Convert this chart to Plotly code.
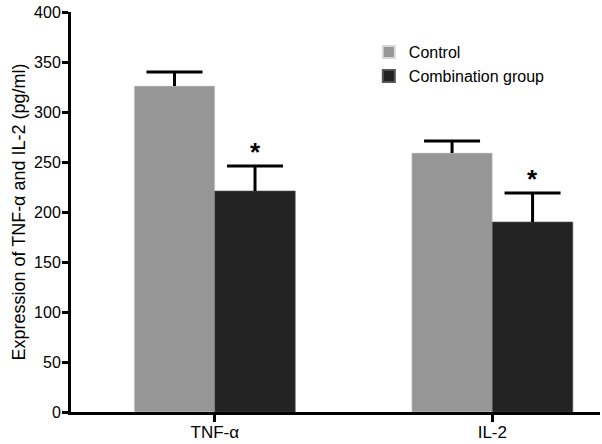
import plotly.graph_objects as go

categories = ["TNF-α", "IL-2"]
control = [326, 259]
control_err = [14, 12]
combination = [221, 190]
combination_err = [25, 29]
y_ticks = [0, 50, 100, 150, 200, 250, 300, 350, 400]

font = "Liberation Sans, Arial, sans-serif"
bar_w = 0.29
pos = list(range(len(categories)))
x_ctrl = [p - bar_w / 2 for p in pos]
x_comb = [p + bar_w / 2 for p in pos]

fig = go.Figure()
fig.add_trace(go.Bar(
    name="Control", x=x_ctrl, y=control, width=bar_w,
    marker=dict(color="#969696", line=dict(color="#d8d8d8", width=0.6)),
    error_y=dict(type="data", symmetric=False, array=control_err, arrayminus=[0, 0],
                 color="black", thickness=3, width=0),
))
fig.add_trace(go.Bar(
    name="Combination group", x=x_comb, y=combination, width=bar_w,
    marker=dict(color="#232323", line=dict(color="#555555", width=0.6)),
    error_y=dict(type="data", symmetric=False, array=combination_err, arrayminus=[0, 0],
                 color="black", thickness=3, width=0),
))
# error bar caps (top only)
fig.add_trace(go.Scatter(
    x=x_ctrl + x_comb,
    y=[v + e for v, e in zip(control, control_err)] + [v + e for v, e in zip(combination, combination_err)],
    mode="markers", showlegend=False, hoverinfo="skip",
    marker=dict(symbol="line-ew", size=40, line=dict(color="black", width=3)),
))

for xc, v, e in zip(x_comb, combination, combination_err):
    fig.add_annotation(x=xc, y=v + e, xref="x", yref="y", text="<b>*</b>", showarrow=False,
                       yshift=-3, yanchor="bottom",
                       font=dict(family=font, size=26, color="black"))

fig.update_layout(
    template="none",
    width=602, height=444,
    margin=dict(l=71, r=2, t=12, b=32),
    plot_bgcolor="white", paper_bgcolor="white",
    barmode="overlay",
    font=dict(family=font, size=16, color="black"),
    legend=dict(x=0.563, y=0.942, xanchor="left", yanchor="top",
                bgcolor="rgba(0,0,0,0)", font=dict(size=16), tracegroupgap=0,
                itemsizing="constant"),
    showlegend=True,
)
fig.update_xaxes(
    range=[-0.518, 1.388], tickvals=pos, ticktext=categories,
    showline=True, linecolor="black", linewidth=3, automargin=False,
    ticks="outside", ticklen=7, tickwidth=3, tickcolor="black",
    ticklabelstandoff=-4,
    tickfont=dict(size=17), showgrid=False, zeroline=False,
)
fig.update_yaxes(
    range=[0, 400], tickvals=y_ticks, showline=True, linecolor="black", linewidth=3,
    automargin=False,
    ticks="outside", ticklen=6, tickwidth=3, tickcolor="black",
    ticklabelstandoff=-2,
    tickfont=dict(size=16), showgrid=False, zeroline=False,
    title=dict(text="Expression of TNF-α and IL-2 (pg/ml)", font=dict(size=18), standoff=4),
)

fig.write_html("out.html", config={"displayModeBar": False},
               post_script="document.body.style.margin='0';")
